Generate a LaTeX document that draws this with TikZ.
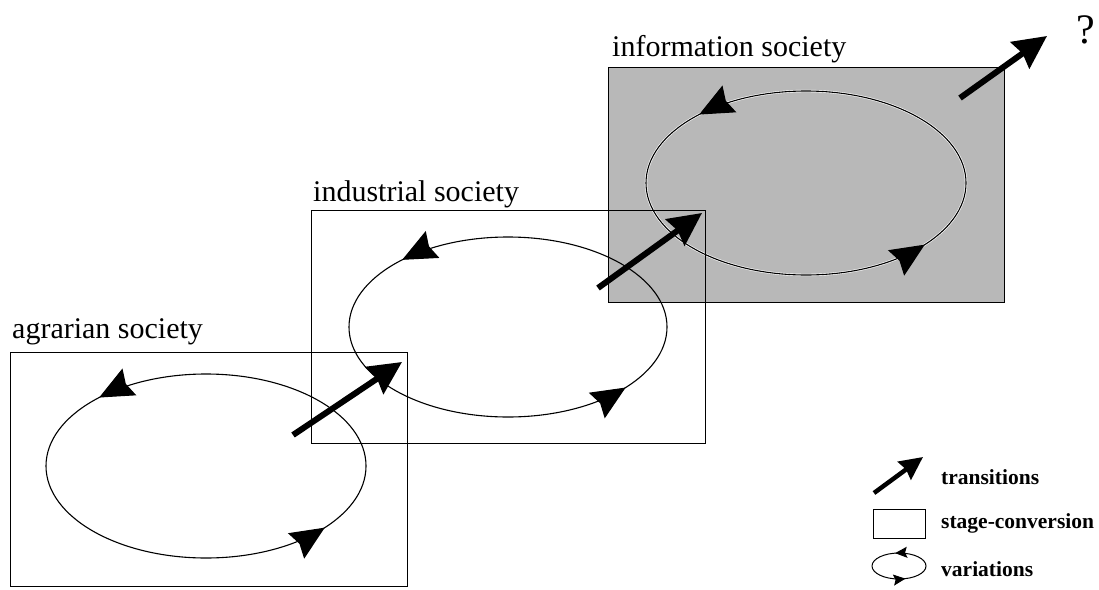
\documentclass[tikz,border=0pt]{standalone}
\usepackage{fontspec}
\setmainfont{Liberation Serif}
\usetikzlibrary{arrows.meta,decorations.markings}
\begin{document}
\begin{tikzpicture}[x=1pt,y=-1pt,
  box/.style={draw=black, line width=0.9pt},
  cyc/.style={draw=black, line width=1.1pt, postaction={decorate}, decoration={markings,
     mark=at position 0.096 with {\arrowreversed{Stealth[length=34pt 0,width=30pt 0,inset=4pt]}},
     mark=at position 0.613 with {\arrowreversed{Stealth[length=34pt 0,width=30pt 0,inset=4pt]}}}},
  legcyc/.style={draw=black, line width=1pt, postaction={decorate}, decoration={markings,
     mark=at position 0.20 with {\arrowreversed{Stealth[length=12pt 0,width=11pt 0,inset=2pt]}},
     mark=at position 0.72 with {\arrowreversed{Stealth[length=12pt 0,width=11pt 0,inset=2pt]}}}},
  trans/.style={line width=6pt, -{Stealth[length=33pt 0,width=32pt 0,inset=3pt]}},
  legtrans/.style={line width=4.5pt, -{Stealth[length=23pt 0,width=22pt 0,inset=2pt]}},
  lab/.style={anchor=base west, inner sep=0pt, font=\fontsize{30}{36}\selectfont},
  leg/.style={anchor=base west, inner sep=0pt, font=\bfseries\fontsize{21.5}{25}\selectfont},
]
\useasboundingbox (0,0) rectangle (1099,589);

% information society (shaded stage)
\fill[black!28] (608,67) rectangle (1004,302);
\draw[box] (608,67) rectangle (1004,302);
\draw[white, line width=2.4pt] (806,183) ellipse [x radius=160, y radius=92];
\draw[cyc] (806,183) ellipse [x radius=160, y radius=92];
\node[lab] (infolab) at (612,56) {information society};

% industrial society
\draw[box] (311,210) rectangle (705,443);
\draw[cyc] (508,327) ellipse [x radius=159, y radius=90];
\node[lab] (indlab) at (313,201) {industrial society};

% agrarian society
\draw[box] (10,352) rectangle (407,586);
\draw[cyc] (206,466) ellipse [x radius=160, y radius=92];
\node[lab] (agrlab) at (12,338) {agrarian society};

% transitions
\coordinate (t1s) at (293,435); \coordinate (t1e) at (402,362);
\coordinate (t2s) at (598,288); \coordinate (t2e) at (702,213);
\coordinate (t3s) at (960,98);  \coordinate (t3e) at (1047,36);
\draw[trans] (t1s) -- (t1e);
\draw[trans] (t2s) -- (t2e);
\draw[trans] (t3s) -- (t3e);
\node[anchor=base, inner sep=0pt, font=\fontsize{42}{48}\selectfont] (q) at (1086,43) {?};

% legend
\coordinate (l1s) at (874,493); \coordinate (l1e) at (923,457);
\draw[legtrans] (l1s) -- (l1e);
\node[leg] (ltr) at (941,484) {transitions};
\draw[line width=0.8pt] (873,509) rectangle (925,538);
\node[leg] (lsc) at (941,528) {stage-conversion};
\draw[legcyc] (899,566) ellipse [x radius=27, y radius=13];
\node[leg] (lva) at (941,576) {variations};
\end{tikzpicture}
\end{document}
